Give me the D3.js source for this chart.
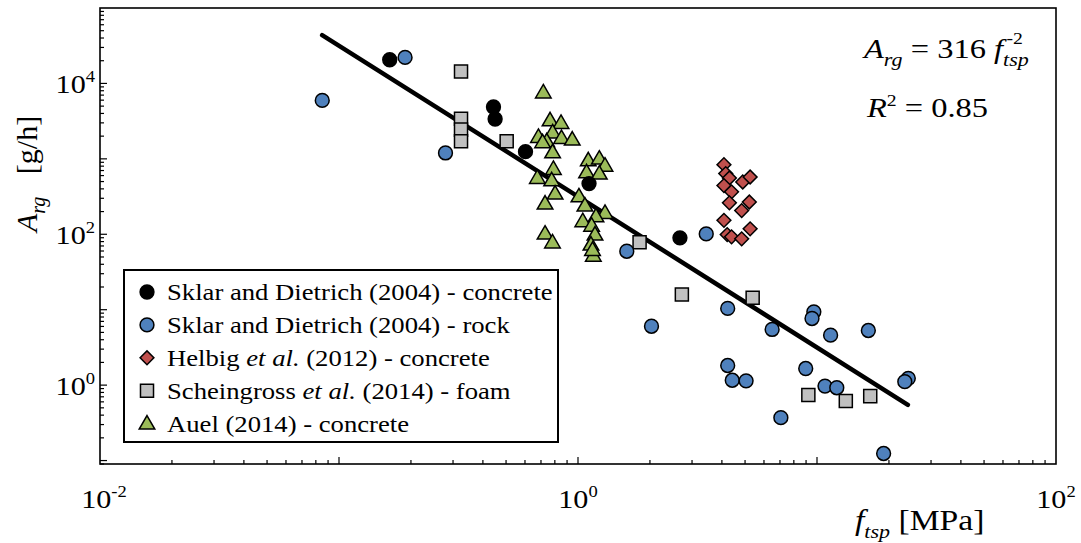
<!DOCTYPE html>
<html><head><meta charset="utf-8">
<script src="https://cdn.jsdelivr.net/npm/d3@7"></script>
<style>
body{margin:0;background:#fff;}
svg{display:block;}
text{font-family:"Liberation Serif","Times New Roman",serif;}
</style></head>
<body><svg id="c" width="1081" height="543"></svg>
<script>
// ---- data (f_tsp [MPa], A_rg [g/h]) ----
const sklarConcreteF = [0.163, 0.443, 0.450, 0.603, 1.112, 2.67];
const sklarConcreteA = [20600, 4870, 3375, 1245, 470, 89.6];

const sklarRockF = [0.189, 0.0851, 0.279, 1.60, 3.44, 2.03, 4.23, 4.23, 4.42, 5.05, 6.49, 7.06, 8.97, 9.70, 9.53, 10.8, 12.1, 11.4, 16.4, 19.0, 24.1, 23.3];
const sklarRockA = [22100, 5960, 1197, 59.6, 101, 6.04, 10.4, 1.82, 1.16, 1.14, 5.47, 0.37, 1.66, 9.37, 7.65, 0.97, 0.924, 4.59, 5.30, 0.124, 1.23, 1.11];

const helbigF = [4.08, 4.15, 4.30, 4.08, 4.39, 4.89, 5.25, 4.30, 4.84, 5.21, 4.08, 4.21, 4.39, 4.84, 5.25];
const helbigA = [838, 637, 558, 442, 365, 494, 575, 261, 206, 268, 153, 99, 92.4, 86.9, 118];

const scheinF = [0.324, 0.324, 0.324, 0.324, 0.503, 1.81, 2.72, 5.38, 9.20, 13.2, 16.7];
const scheinA = [14400, 3400, 2440, 1706, 1706, 78.3, 15.9, 14.4, 0.738, 0.614, 0.715];

const auelF = [0.716, 0.764, 0.849, 0.683, 0.783, 0.740, 0.711, 0.853, 0.946, 0.783, 0.789, 0.676, 0.776, 0.802, 0.728, 0.728, 0.782,
               1.104, 1.228, 1.297, 1.086, 1.228, 1.009, 1.069, 1.297, 1.189, 1.047, 1.140, 1.178, 1.133, 1.159, 1.150];
const auelA = [7600, 3240, 2990, 1950, 2240, 1710, 1660, 1890, 1800, 1220, 735, 558, 519, 346, 255, 102, 78,
               955, 1007, 813, 662, 637, 318, 240, 192, 173, 149, 130, 99, 73, 52, 62];

const fitCoef = 316, fitExp = -2;
const fitRange = [0.085, 24];

const legendLabels = [
  [["Sklar and Dietrich (2004) - concrete", false]],
  [["Sklar and Dietrich (2004) - rock", false]],
  [["Helbig ", false], ["et al.", true], [" (2012) - concrete", false]],
  [["Scheingross ", false], ["et al.", true], [" (2014) - foam", false]],
  [["Auel (2014) - concrete", false]]
];
const xTickExps = [-2, 0, 2];
const yTickExps = [0, 2, 4];

// ---- layout ----
const svg = d3.select("#c");
const L = 100, R = 1056, T = 8, B = 464;
const SX = 1.16; // horizontal text stretch
const x = d3.scaleLog().domain([0.01, 100]).range([L, R]);
const y = d3.scaleLog().domain([0.09, 1e5]).range([B, T]);

const colors = {sc:"#000000", sr:"#4f81bd", h:"#c0504d", s:"#c0c0c0", a:"#9bbb59"};

function txt(px, py, size, anchor, extra) {
  return svg.append("text")
    .attr("transform", `translate(${px},${py}) ` + (extra || `scale(${SX},1)`))
    .attr("font-size", size).attr("text-anchor", anchor || "start");
}

// frame
svg.append("rect").attr("x", L).attr("y", T).attr("width", R-L).attr("height", B-T)
  .attr("fill","none").attr("stroke","#000").attr("stroke-width",1.6);

// ticks inward
const tg = svg.append("g").attr("stroke","#000").attr("stroke-width",1.2);
for (let e=-2; e<2; e++) {
  for (let m=1; m<10; m++) {
    const v = m*Math.pow(10,e);
    if (m===1 && e===-2) continue;
    const len = m===1 ? 7 : 4;
    tg.append("line").attr("x1", x(v)).attr("x2", x(v)).attr("y1", B).attr("y2", B-len);
  }
}
for (let e=-2; e<5; e++) {
  for (let m=1; m<10; m++) {
    const v = m*Math.pow(10,e);
    if (v < 0.09 || v > 1e5) continue;
    const len = m===1 ? 7 : 4;
    tg.append("line").attr("x1", L).attr("x2", L+len).attr("y1", y(v)).attr("y2", y(v));
  }
}
// tick labels
xTickExps.forEach(e => {
  const t = txt(x(Math.pow(10,e)) + (e < 0 ? 4 : 0), 508, 26, "middle");
  t.append("tspan").text("10");
  t.append("tspan").attr("dy",-11).attr("font-size",16).text(e);
});
yTickExps.forEach(e => {
  const t = txt(95, y(Math.pow(10,e))+10, 26, "end");
  t.append("tspan").text("10");
  t.append("tspan").attr("dy",-11).attr("font-size",16).text(e);
});

// axis titles
{
  const t = txt(855, 530, 29);
  t.append("tspan").attr("font-style","italic").text("f");
  t.append("tspan").attr("font-style","italic").attr("font-size",19).attr("dy",8).text("tsp");
  t.append("tspan").attr("dy",-8).text(" [MPa]");
}
{
  const t = txt(37, 232, 30, "start", "rotate(-90)");
  t.append("tspan").attr("font-style","italic").text("A");
  t.append("tspan").attr("font-style","italic").attr("font-size",20).attr("dy",8).text("rg");
  t.append("tspan").attr("dy",-8).text("\u00a0\u00a0\u00a0[g/h]");
}

// fit line
const fitData = fitRange.map(f => [f, fitCoef*Math.pow(f, fitExp)]);
svg.append("path").datum(fitData)
  .attr("d", d3.line().x(d=>x(d[0])).y(d=>y(d[1])))
  .attr("stroke","#000").attr("stroke-width",4.5).attr("fill","none").attr("stroke-linecap","round");

// markers
const sym = {
  circle: d3.symbol().type(d3.symbolCircle).size(150),
  square: d3.symbol().type(d3.symbolSquare).size(170),
  diamond: d3.symbol().type(d3.symbolSquare).size(95),
  triangle: d3.symbol().type(d3.symbolTriangle).size(105)
};
function drawSeries(F, A, kind, color, rot) {
  const pts = F.map((f,i)=>[f, A[i]]);
  svg.append("g").selectAll("path").data(pts).join("path")
    .attr("d", sym[kind]())
    .attr("transform", d => `translate(${x(d[0])},${y(d[1])})` + (rot ? " rotate(45)" : "") + (kind==="triangle" ? " translate(0,1)" : ""))
    .attr("fill", color).attr("stroke","#000").attr("stroke-width",1.5);
}
drawSeries(auelF, auelA, "triangle", colors.a);
drawSeries(scheinF, scheinA, "square", colors.s);
drawSeries(helbigF, helbigA, "diamond", colors.h, true);
drawSeries(sklarRockF, sklarRockA, "circle", colors.sr);
drawSeries(sklarConcreteF, sklarConcreteA, "circle", colors.sc);

// equation
{
  const t = txt(864, 58, 28);
  t.append("tspan").attr("font-style","italic").text("A");
  t.append("tspan").attr("font-style","italic").attr("font-size",19).attr("dy",8).text("rg");
  t.append("tspan").attr("dy",-8).text(" = 316 ");
  t.append("tspan").attr("font-style","italic").text("f");
  t.append("tspan").attr("font-style","italic").attr("font-size",19).attr("dy",8).text("tsp");
  const p = t.node().getStartPositionOfChar(11);
  t.append("tspan").attr("font-size",17).attr("x", p.x + 3).attr("y", -14).text("-2");
  const t2 = txt(867, 117, 28);
  t2.append("tspan").attr("font-style","italic").text("R");
  t2.append("tspan").attr("font-size",17).attr("dy",-11).text("2");
  t2.append("tspan").attr("dy",11).text(" = 0.85");
}

// legend
const lg = svg.append("g");
lg.append("rect").attr("x",124).attr("y",270).attr("width",434).attr("height",172)
  .attr("fill","#fff").attr("stroke","#000").attr("stroke-width",2);
const legKinds = [["circle",colors.sc,false],["circle",colors.sr,false],["diamond",colors.h,true],["square",colors.s,false],["triangle",colors.a,false]];
legendLabels.forEach((parts,i) => {
  const cy = 292 + i*32.9;
  const k = legKinds[i];
  lg.append("path").attr("d", sym[k[0]]())
    .attr("transform", `translate(147,${cy})` + (k[2] ? " rotate(45)" : "") + (k[0]==="triangle" ? " translate(0,1)" : ""))
    .attr("fill", k[1]).attr("stroke","#000").attr("stroke-width",1.5);
  const t = lg.append("text").attr("transform", `translate(167,${cy+8}) scale(${SX},1)`).attr("font-size",23);
  parts.forEach(p => t.append("tspan").attr("font-style", p[1] ? "italic" : "normal").text(p[0]));
});
</script></body></html>
